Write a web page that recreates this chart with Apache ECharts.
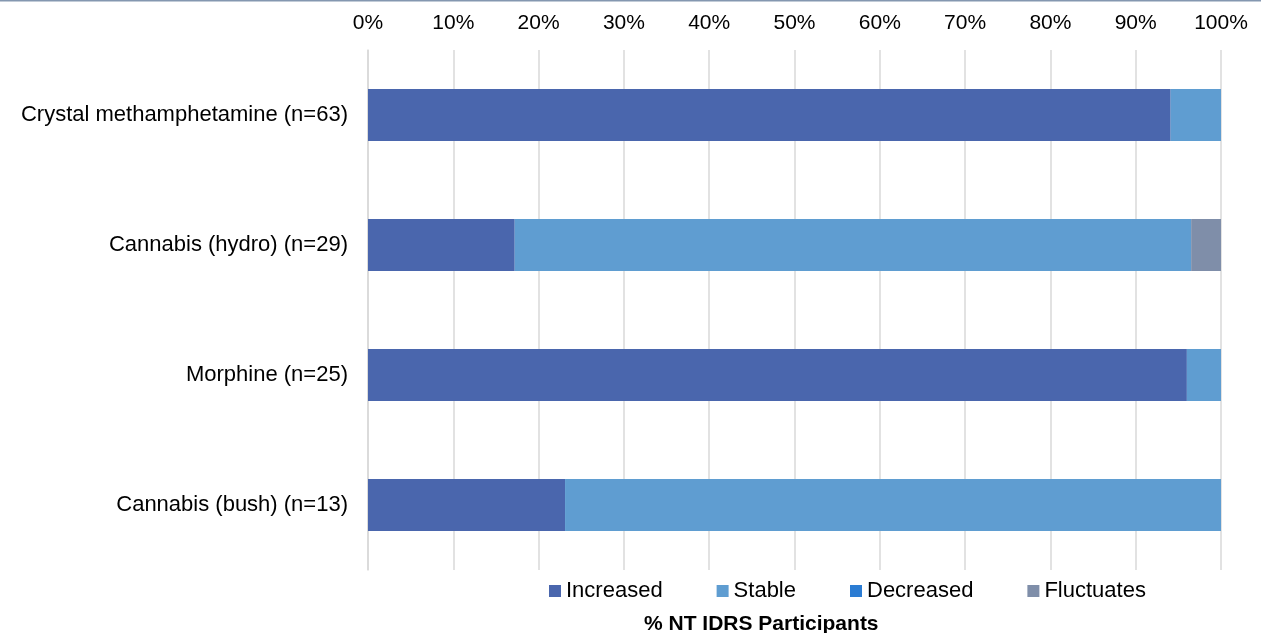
<!DOCTYPE html>
<html lang="en" style="height: 100%">
<head>
    <meta charset="UTF-8">
    <title>NT IDRS</title>
    <style>
        #main{
            width: 1261px;
            height: 633px;
        }
    </style>
    <script src="https://cdn.jsdelivr.net/npm/echarts@6/dist/echarts.min.js"></script>
</head>
<body style="margin: 0;">
<div id="main"></div>
<script>
    var categories = ['Crystal methamphetamine (n=63)', 'Cannabis (hydro) (n=29)', 'Morphine (n=25)', 'Cannabis (bush) (n=13)'];
    var increased = [94.1, 17.2, 96, 23.1];
    var stable = [5.9, 79.3, 4, 76.9];
    var decreased = [0, 0, 0, 0];
    var fluctuates = [0, 3.5, 0, 0];

    var chart = echarts.init(document.getElementById('main'));
    var font = 'Liberation Sans, Arial, sans-serif';

    function bar(name, data, color) {
        return {
            name: name,
            type: 'bar',
            stack: 'all',
            barWidth: 52,
            data: data,
            itemStyle: { color: color }
        };
    }

    var option = {
        animation: false,
        textStyle: { fontFamily: font },
        grid: { left: 368, right: 40, top: 50, bottom: 63 },
        // thin border line along the top of the picture
        graphic: [{
            type: 'rect',
            shape: { x: 0, y: 0, width: 1261, height: 1.5 },
            style: { fill: '#8497b0' }
        }],
        title: {
            text: '% NT IDRS Participants',
            left: 639,
            top: 609,
            textStyle: { fontSize: 21, fontWeight: 'bold', color: '#000', fontFamily: font }
        },
        legend: {
            left: 544,
            top: 575,
            itemWidth: 12,
            itemHeight: 12,
            itemGap: 54,
            icon: 'rect',
            textStyle: { fontSize: 22, color: '#000' },
            data: ['Increased', 'Stable', 'Decreased', 'Fluctuates']
        },
        xAxis: {
            type: 'value',
            position: 'top',
            min: 0,
            max: 100,
            interval: 10,
            axisLabel: { formatter: '{value}%', fontSize: 21, color: '#000', margin: 16 },
            axisLine: { show: false },
            axisTick: { show: false },
            splitLine: { lineStyle: { color: '#d9d9d9', width: 1.5 } }
        },
        yAxis: {
            type: 'category',
            inverse: true,
            data: categories,
            axisLabel: { fontSize: 22, color: '#000', margin: 20 },
            axisLine: { lineStyle: { color: '#d9d9d9', width: 1.5 } },
            axisTick: { show: false }
        },
        series: [
            bar('Increased', increased, '#4a66ad'),
            bar('Stable', stable, '#5f9dd1'),
            bar('Decreased', decreased, '#2b7cd3'),
            bar('Fluctuates', fluctuates, '#7f8ea9')
        ]
    };

    chart.setOption(option);
</script>
</body>
</html>
